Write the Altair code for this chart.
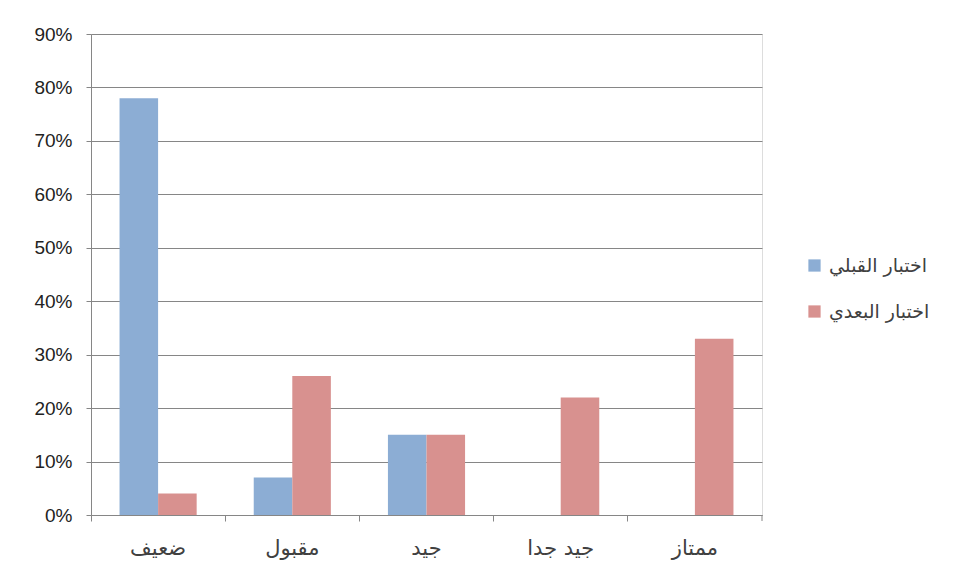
import altair as alt
import pandas as pd

categories = ["ضعيف", "مقبول", "جيد", "جيد جدا", "ممتاز"]
series_names = ["اختبار القبلي", "اختبار البعدي"]
pre_values = [0.78, 0.07, 0.15, 0.0, 0.0]
post_values = [0.04, 0.26, 0.15, 0.22, 0.33]
y_ticks = [0, 0.1, 0.2, 0.3, 0.4, 0.5, 0.6, 0.7, 0.8, 0.9]

rows = []
for c, v in zip(categories, pre_values):
    rows.append({"cat": c, "series": series_names[0], "value": v})
for c, v in zip(categories, post_values):
    rows.append({"cat": c, "series": series_names[1], "value": v})
df = pd.DataFrame(rows)

W, H = 671, 481
arabic_font = "DejaVu Sans, sans-serif"

bars = alt.Chart(df).mark_bar(opacity=1).encode(
    x=alt.X("cat:N", sort=categories, title=None,
            scale=alt.Scale(paddingInner=0, paddingOuter=0),
            axis=alt.Axis(labelAngle=0, bandPosition=0, tickSize=6, tickColor="#868686",
                          domainColor="#868686", labelFontSize=21, labelColor="#404040",
                          labelFont=arabic_font, labelPadding=16, grid=False,
                          labelBound=False)),
    xOffset=alt.XOffset("series:N", sort=series_names,
                        scale=alt.Scale(paddingInner=0, paddingOuter=0.74)),
    y=alt.Y("value:Q", title=None,
            scale=alt.Scale(domain=[0, 0.9], nice=False),
            axis=alt.Axis(values=y_ticks, format=".0%", tickSize=5, tickColor="#868686",
                          domainColor="#868686", gridColor="#868686", gridWidth=1,
                          labelFontSize=19, labelColor="#222222", labelFont="Liberation Sans",
                          labelPadding=14)),
    color=alt.Color("series:N", sort=series_names,
                    scale=alt.Scale(domain=series_names, range=["#8CADD4", "#D8918F"]),
                    legend=alt.Legend(title=None, orient="none", legendX=714, legendY=222,
                                      symbolType="square", symbolSize=150, symbolStrokeWidth=0,
                                      labelFontSize=19, labelColor="#404040",
                                      labelFont=arabic_font, rowPadding=26, labelOffset=5)),
)

end_tick = alt.Chart(pd.DataFrame({"a": [0]})).mark_rule(color="#868686").encode(
    x=alt.value(W), y=alt.value(H), y2=alt.value(H + 6)
)

chart = alt.layer(bars, end_tick).properties(
    width=W, height=H,
    autosize=alt.AutoSizeParams(type="none"),
    padding={"left": 83, "top": 26, "right": 186, "bottom": 58},
).configure_view(stroke=None).configure(background="white")

chart.save("out.html", embed_options={"renderer": "svg", "actions": False})
